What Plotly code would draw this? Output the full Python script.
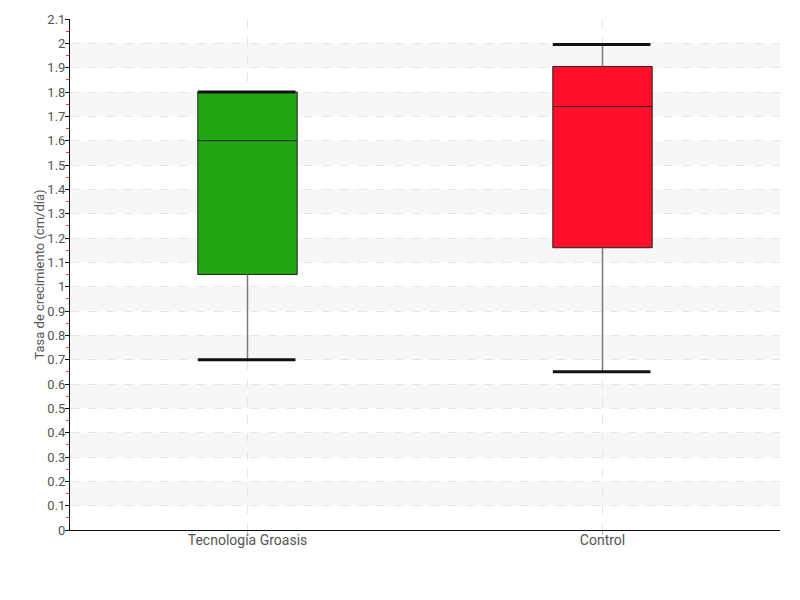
import plotly.graph_objects as go

categories = ["Tecnología Groasis", "Control"]
lower_whisker = [0.70, 0.65]
q1 = [1.05, 1.16]
median = [1.60, 1.74]
q3 = [1.80, 1.905]
upper_whisker = [1.80, 1.995]
colors = ["#21a511", "#ff0f2a"]

y_ticks = [round(i * 0.1, 1) for i in range(22)]
y_labels = [("%g" % v) for v in y_ticks]

FONT = "Roboto, sans-serif"
BOXW = 0.28
xs = list(range(len(categories)))

fig = go.Figure()

for i, cat in enumerate(categories):
    fig.add_trace(go.Box(
        x=[xs[i]], q1=[q1[i]], median=[median[i]], q3=[q3[i]],
        lowerfence=[q1[i]], upperfence=[q3[i]],
        width=BOXW, fillcolor=colors[i],
        line=dict(color="#222222", width=1),
        whiskerwidth=0, boxpoints=False, name=cat, showlegend=False,
        hoverinfo="skip"))
    fig.add_trace(go.Scatter(
        x=[xs[i], xs[i], None, xs[i], xs[i]],
        y=[q3[i], upper_whisker[i], None, q1[i], lower_whisker[i]],
        mode="lines", line=dict(color="#7a7a7a", width=1.5),
        showlegend=False, hoverinfo="skip"))
    fig.add_trace(go.Scatter(
        x=[xs[i] - BOXW / 2, xs[i] + BOXW / 2 - 0.005, None,
           xs[i] - BOXW / 2, xs[i] + BOXW / 2 - 0.005],
        y=[upper_whisker[i], upper_whisker[i], None,
           lower_whisker[i], lower_whisker[i]],
        mode="lines", line=dict(color="#111111", width=3),
        showlegend=False, hoverinfo="skip"))

shapes = []
for k in range(1, len(y_ticks) - 2, 2):
    shapes.append(dict(type="rect", xref="paper", yref="y", x0=0, x1=1,
                       y0=y_ticks[k], y1=y_ticks[k + 1],
                       fillcolor="#f7f7f7", line=dict(width=0), layer="below"))

fig.update_layout(
    width=800, height=600,
    margin=dict(l=70, r=20, t=19, b=70),
    paper_bgcolor="white", plot_bgcolor="white",
    font=dict(family=FONT, color="#555555", size=14),
    shapes=shapes,
    annotations=[dict(text="Tasa de crecimiento (cm/día)", textangle=-90,
                      xref="paper", yref="paper", x=-31 / 710, y=0.5,
                      xanchor="center", yanchor="middle", showarrow=False,
                      font=dict(size=13, color="#555555"))],
    xaxis=dict(
        range=[-0.5, 1.5], tickvals=xs, ticktext=categories,
        automargin=False,
        showgrid=True, gridcolor="#e6e6e6", griddash="dash", gridwidth=1,
        showline=True, linecolor="#111111", linewidth=1,
        ticks="outside", ticklen=4, tickcolor="#bbbbbb",
        ticklabelstandoff=-7,
        zeroline=False, tickfont=dict(size=14, color="#555555"),
    ),
    yaxis=dict(
        range=[0, 2.1], tickvals=y_ticks, ticktext=y_labels,
        automargin=False,
        showgrid=True, gridcolor="#e6e6e6", griddash="dash", gridwidth=1,
        showline=True, linecolor="#111111", linewidth=1,
        ticks="outside", ticklen=4, tickcolor="#111111",
        ticklabelstandoff=-3,
        zeroline=False, tickfont=dict(size=13, color="#555555"),
        minor=dict(tick0=0.05, dtick=0.1, ticks="outside", ticklen=3,
                   tickcolor="#ff3333", showgrid=False),
    ),
)

post = ("document.body.style.margin='0';"
        "document.body.style.overflow='hidden';"
        "Plotly.relayout('{plot_id}', {width: 800, height: 600});")
fig.write_html("out.html", post_script=post, config={"displayModeBar": False})
